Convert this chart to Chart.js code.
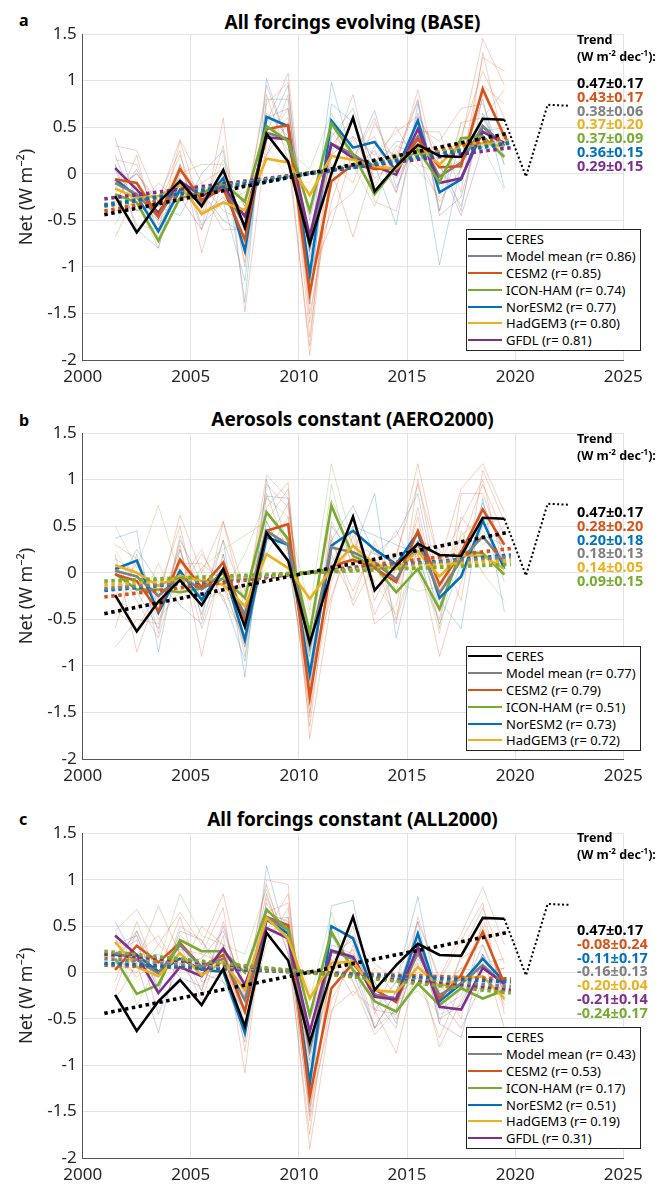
<!DOCTYPE html>
<html lang="en">
<head>
<meta charset="UTF-8">
<meta name="viewport" content="width=device-width, initial-scale=1.0">
<script src="https://cdn.jsdelivr.net/npm/chart.js"></script>
<title>Net radiation anomalies</title>
<style>
    body { margin: 0; width: 667px; height: 1184px; overflow: hidden; background: #fff; position: relative; font-family: "Noto Sans", sans-serif; color: #000; }
    canvas { position: absolute; left: 0; }
    .letter { position: absolute; left: 19px; font-size: 16px; font-weight: bold; line-height: 20px; }
    .title { position: absolute; left: 82px; width: 541px; text-align: center; font-size: 19px; font-weight: bold; line-height: 26px; }
    .trend { position: absolute; left: 577px; font-weight: bold; white-space: nowrap; }
    .trend .head { font-size: 12.5px; line-height: 17px; }
    .trend .vals { position: absolute; left: 0; font-size: 14.5px; line-height: 13.8px; }
    .trend sup { font-size: 8px; line-height: 0; }
    .legend { position: absolute; left: 466px; border: 1px solid #262626; background: #fff; padding: 1px 4px 1px 1px; }
    .legend .row { display: flex; align-items: center; height: 16.8px; font-size: 13px; white-space: nowrap; }
    .legend .swatch { width: 34px; height: 0; border-top: 2.6px solid; margin-right: 4px; }
</style>
</head>
<body>

<div class="letter" style="top:10px">a</div>
<div class="title" style="top:9px">All forcings evolving (BASE)</div>
<canvas id="panelA" width="667" height="395" style="top:0px"></canvas>
<div class="trend" id="trendA" style="top:31px"></div>
<div class="legend" id="legendA" style="top:229px"></div>

<div class="letter" style="top:410px">b</div>
<div class="title" style="top:406px">Aerosols constant (AERO2000)</div>
<canvas id="panelB" width="667" height="394" style="top:400px"></canvas>
<div class="trend" id="trendB" style="top:430px"></div>
<div class="legend" id="legendB" style="top:646px"></div>

<div class="letter" style="top:809px">c</div>
<div class="title" style="top:806px">All forcings constant (ALL2000)</div>
<canvas id="panelC" width="667" height="393" style="top:800px"></canvas>
<div class="trend" id="trendC" style="top:829px"></div>
<div class="legend" id="legendC" style="top:1027px"></div>

<script>
// ---- dados ----
const years = [2001.5, 2002.5, 2003.5, 2004.5, 2005.5, 2006.5, 2007.5, 2008.5, 2009.5, 2010.5,
               2011.5, 2012.5, 2013.5, 2014.5, 2015.5, 2016.5, 2017.5, 2018.5, 2019.5];

const ceres = [-0.24, -0.63, -0.31, -0.08, -0.35, 0.04, -0.58, 0.43, 0.13, -0.75,
               0.00, 0.60, -0.19, 0.08, 0.31, 0.19, 0.18, 0.59, 0.58];
const ceresExtYears = [2019.5, 2020.5, 2021.5, 2022.5];
const ceresExt = [0.58, -0.03, 0.74, 0.73];

const trendYears = [2001.0, 2019.8];
const ceresTrendYears = [2001.0, 2019.6];
const ceresTrend = [-0.44, 0.43];

// painel a (BASE)
const aMean  = [-0.10, -0.22, -0.46, -0.10, -0.31, -0.13, -0.56, 0.44, 0.37, -0.78, 0.32, 0.21, 0.05, 0.06, 0.40, -0.03, 0.12, 0.51, 0.30];
const aCesm2 = [-0.06, -0.10, -0.46, 0.05, -0.28, -0.16, -0.71, 0.48, 0.52, -1.28, -0.08, 0.10, 0.05, 0.06, 0.37, 0.07, 0.08, 0.91, 0.40];
const aIcon  = [-0.22, -0.31, -0.72, -0.26, -0.21, -0.10, -0.30, 0.51, 0.35, -0.40, 0.54, 0.21, -0.22, 0.07, 0.26, -0.09, 0.38, 0.40, 0.18];
const aNor   = [-0.06, -0.24, -0.62, -0.17, -0.31, -0.05, -0.83, 0.61, 0.51, -1.08, 0.57, 0.28, 0.34, 0.03, 0.57, -0.20, -0.06, 0.51, 0.30];
const aHad   = [-0.16, -0.26, -0.24, -0.12, -0.43, -0.31, -0.39, 0.16, 0.12, -0.23, 0.19, 0.15, 0.08, 0.05, 0.30, 0.10, 0.32, 0.33, 0.29];
const aGfdl  = [0.06, -0.17, -0.42, -0.08, -0.24, -0.13, -0.46, 0.39, 0.37, -0.67, 0.32, 0.17, 0.08, -0.01, 0.48, -0.10, -0.05, 0.45, 0.33];

const aCesm2Members = [
    [0.30, 0.25, -0.30, 0.37, -0.10, 0.05, -0.95, 0.75, 0.98, -1.50, -0.30, 0.40, 0.20, 0.45, 0.62, 0.20, 0.35, 1.45, 0.95],
    [-0.40, -0.30, -0.80, 0.10, -0.60, 0.60, -1.48, 0.35, 0.70, -1.75, 0.10, -0.10, 0.55, 0.10, 0.90, -0.10, 0.40, 1.10, 0.60],
    [0.15, 0.10, -0.55, -0.20, -0.10, -0.40, -0.50, 0.95, 0.30, -1.95, 0.20, 0.85, -0.15, 0.30, 0.20, -0.30, 0.05, 1.25, 1.10],
    [-0.68, -0.20, -0.25, 0.25, -0.85, -0.05, -0.80, 0.55, 1.08, -1.10, -0.55, 0.25, 0.40, -0.20, 0.50, 0.35, 0.70, 0.75, 0.10],
    [0.05, -0.55, -0.60, 0.35, -0.40, -0.30, -0.20, 0.20, 0.85, -1.60, 0.05, -0.68, 0.10, 0.50, 0.10, 0.00, 0.15, 0.95, 0.75],
    [-0.20, 0.00, -0.35, 0.20, -0.45, 0.30, -1.00, 0.65, 0.40, -1.40, 0.30, 0.60, -0.30, -0.40, 0.45, 0.45, -0.20, 1.30, 0.30],
    [0.10, -0.40, -0.10, -0.30, -0.20, -0.60, -0.60, 0.40, 0.60, -1.05, -0.40, -0.20, 0.30, 0.20, 0.80, -0.40, 0.55, 0.60, 0.90],
    [-0.35, 0.20, -0.70, 0.00, 0.10, 0.10, -0.35, 0.85, 0.15, -1.85, 0.45, 0.15, 0.60, -0.05, 0.30, 0.20, -0.40, 0.85, 0.45]
];
const aNorMembers = [
    [0.20, -0.40, -0.35, -0.45, 0.00, 0.25, -1.38, 1.02, 0.30, -0.80, 0.98, 0.15, 0.68, -0.15, 0.40, -0.98, 0.10, 0.80, -0.15],
    [-0.30, 0.05, -0.50, 0.10, -0.55, -0.30, -1.15, 0.80, 0.80, -1.40, 0.75, 0.55, 0.10, -0.55, 0.75, -0.40, 0.35, 0.45, 0.50],
    [0.10, -0.60, -0.80, 0.05, -0.20, -0.50, -0.65, 0.45, 0.95, -1.20, 0.40, 0.70, 0.05, 0.35, 0.30, 0.10, -0.35, 0.65, 0.10]
];
const aIconMembers = [
    [-0.55, -0.10, -0.60, -0.05, -0.35, 0.15, -0.30, 0.60, 0.25, 0.05, 0.65, 0.10, -0.35, 0.25, 0.05, -0.25, 0.55, 0.30, -0.18]
];
const aHadMembers = [
    [-0.35, -0.10, -0.40, 0.10, -0.30, -0.50, -0.25, 0.30, -0.05, -0.10, 0.30, 0.35, -0.10, 0.20, 0.15, 0.25, 0.10, 0.50, 0.15]
];
const aGfdlMembers = [
    [0.38, -0.30, -0.50, -0.25, -0.60, 0.00, -0.35, 0.60, 0.70, -0.90, 0.20, 0.40, -0.05, 0.15, 0.78, -0.45, -0.25, 0.60, 0.20],
    [-0.15, 0.00, -0.30, -0.05, -0.45, -0.25, -0.60, 0.20, 0.55, -0.50, 0.55, 0.05, 0.25, -0.20, 0.65, 0.10, -0.45, 0.30, 0.45]
];

const aTrendCesm2 = [-0.40, 0.40];
const aTrendMean  = [-0.35, 0.36];
const aTrendHad   = [-0.34, 0.35];
const aTrendIcon  = [-0.33, 0.34];
const aTrendNor   = [-0.34, 0.33];
const aTrendGfdl  = [-0.27, 0.28];

const aLegend = ['CERES', 'Model mean (r= 0.86)', 'CESM2 (r= 0.85)', 'ICON-HAM (r= 0.74)', 'NorESM2 (r= 0.77)', 'HadGEM3 (r= 0.80)', 'GFDL (r= 0.81)'];
const aTrendText = ['0.47±0.17', '0.43±0.17', '0.38±0.06', '0.37±0.20', '0.37±0.09', '0.36±0.15', '0.29±0.15'];

// painel b (AERO2000)
const bMean  = [0.02, -0.04, -0.25, -0.04, -0.18, 0.00, -0.45, 0.45, 0.30, -0.79, 0.27, 0.22, 0.11, -0.07, 0.32, -0.22, 0.14, 0.39, 0.11];
const bCesm2 = [-0.02, -0.09, -0.41, 0.14, -0.16, 0.11, -0.50, 0.45, 0.52, -1.34, 0.07, 0.14, 0.05, -0.10, 0.45, -0.13, 0.22, 0.68, 0.30];
const bIcon  = [-0.01, -0.18, -0.18, -0.21, -0.17, -0.06, -0.27, 0.65, 0.36, -0.65, 0.72, 0.18, 0.07, -0.21, 0.04, -0.39, 0.23, 0.21, -0.02];
const bNor   = [0.04, 0.13, -0.43, 0.02, -0.29, 0.04, -0.72, 0.38, 0.30, -1.09, 0.29, 0.45, 0.25, 0.09, 0.43, -0.27, -0.04, 0.56, 0.04];
const bHad   = [0.08, 0.00, -0.14, -0.03, -0.09, -0.13, -0.36, 0.20, 0.05, -0.28, 0.04, 0.29, 0.09, 0.04, 0.23, -0.04, 0.19, 0.18, 0.04];

const bCesm2Members = [
    [0.30, 0.15, -0.30, 0.62, 0.00, 0.55, -0.40, 1.05, 0.80, -1.55, 0.78, 0.30, 0.20, 0.15, 1.17, 0.10, 0.90, 1.17, 0.65],
    [-0.80, -0.50, -0.55, 0.30, -0.90, 0.20, -0.90, 0.70, 0.97, -1.78, -0.30, 0.50, -0.55, -0.35, 0.70, -0.40, 0.30, 0.95, 0.40],
    [0.20, -0.85, -0.20, -0.10, 0.25, -0.30, -0.65, 0.20, 0.60, -1.20, 0.35, -0.20, 0.30, -0.50, 0.20, -0.90, -0.10, 0.50, 0.60],
    [-0.60, 0.20, -0.65, 0.40, -0.30, 0.35, -0.30, 0.85, 0.20, -1.50, -0.10, 0.60, -0.30, 0.20, 0.95, 0.10, 0.55, 1.00, 0.00],
    [0.10, -0.30, -0.70, 0.10, 0.10, -0.10, -0.80, 0.30, 0.75, -1.00, 0.40, -0.35, 0.10, 0.45, 0.00, -0.50, 0.60, 0.30, 0.50],
    [-0.40, -0.60, -0.20, 0.50, -0.50, 0.55, -0.20, 0.40, 0.35, -1.65, 0.20, -0.30, 0.35, -0.20, 0.60, -0.60, 0.85, 0.85, 0.20],
    [0.15, 0.00, -0.50, -0.20, 0.20, -0.15, -0.75, 0.95, 0.70, -1.10, -0.25, 0.40, -0.45, 0.05, 0.35, 0.25, -0.30, 1.10, 0.55],
    [-0.25, 0.10, -0.35, 0.25, -0.60, 0.05, -0.55, 0.55, 0.90, -1.40, 0.55, 0.10, 0.15, -0.55, 1.00, -0.20, 0.40, 0.60, -0.10]
];
const bNorMembers = [
    [0.37, 0.45, -0.85, 0.25, -0.45, 0.35, -1.12, 1.00, 0.30, -0.90, 0.35, 0.72, 0.20, 0.40, 0.85, -0.30, -0.60, 0.80, -0.42],
    [-0.20, 0.25, -0.10, -0.35, -0.55, 0.20, -0.80, 0.82, 0.80, -1.25, 0.50, 0.20, 0.85, -0.70, 0.30, -0.40, 0.20, 0.40, 0.30],
    [0.00, -0.20, -0.60, 0.35, -0.10, -0.25, -0.95, 0.55, 0.10, -1.30, 0.10, 0.50, 0.40, 0.30, 0.20, -0.55, 0.10, 0.75, 0.20]
];
const bIconMembers = [
    [0.50, 0.05, 0.72, -0.05, -0.30, -0.20, 0.20, 0.80, 0.60, -0.40, 1.17, 0.30, -0.10, -0.45, 0.25, -0.65, 0.45, 0.00, -0.30],
    [-0.30, -0.40, 0.10, -0.35, 0.05, 0.25, 0.40, 0.55, 0.10, -0.90, 0.95, 0.00, 0.25, -0.10, -0.20, -0.15, 0.10, 0.45, 0.15]
];
const bHadMembers = [
    [0.25, -0.15, 0.00, -0.20, 0.05, -0.30, -0.20, 0.05, 0.25, -0.45, 0.15, 0.45, -0.10, 0.20, 0.10, 0.10, 0.35, 0.00, 0.20]
];

const bTrendCesm2 = [-0.26, 0.26];
const bTrendNor   = [-0.19, 0.19];
const bTrendMean  = [-0.17, 0.17];
const bTrendHad   = [-0.13, 0.13];
const bTrendIcon  = [-0.09, 0.09];

const bLegend = ['CERES', 'Model mean (r= 0.77)', 'CESM2 (r= 0.79)', 'ICON-HAM (r= 0.51)', 'NorESM2 (r= 0.73)', 'HadGEM3 (r= 0.72)'];
const bTrendText = ['0.47±0.17', '0.28±0.20', '0.20±0.18', '0.18±0.13', '0.14±0.05', '0.09±0.15'];

// painel c (ALL2000)
const cMean  = [0.21, 0.14, -0.01, 0.30, 0.06, 0.15, -0.30, 0.60, 0.46, -0.83, 0.23, 0.15, -0.24, -0.28, 0.21, -0.24, -0.12, 0.08, -0.13];
const cCesm2 = [0.03, 0.29, 0.11, 0.32, 0.06, 0.19, -0.42, 0.60, 0.51, -1.34, -0.17, 0.10, -0.18, -0.32, 0.23, -0.28, -0.03, 0.44, -0.12];
const cIcon  = [0.15, -0.23, -0.13, 0.35, 0.23, 0.23, 0.00, 0.68, 0.46, -0.46, 0.44, 0.03, -0.31, -0.42, -0.12, -0.35, -0.17, -0.28, -0.19];
const cNor   = [0.19, 0.19, 0.01, 0.15, 0.03, 0.01, -0.65, 0.57, 0.42, -1.19, 0.50, 0.37, -0.24, -0.28, 0.42, -0.31, -0.12, 0.15, -0.10];
const cHad   = [0.33, 0.06, -0.04, 0.21, -0.03, 0.12, -0.19, 0.59, 0.37, -0.28, 0.10, 0.12, -0.19, -0.21, 0.06, -0.15, -0.07, -0.04, -0.28];
const cGfdl  = [0.40, 0.19, -0.22, 0.06, -0.04, 0.26, -0.13, 0.48, 0.37, -0.64, 0.24, 0.17, -0.26, -0.29, 0.28, -0.37, -0.40, 0.05, -0.12];

const cCesm2Members = [
    [0.45, 0.68, 0.30, 0.65, 0.30, 0.85, -0.20, 1.00, 0.95, -1.55, 0.10, 0.40, 0.10, -0.10, 0.55, -0.05, 0.42, 0.92, 0.30],
    [-0.30, 0.10, 0.72, 0.20, -0.30, 0.40, -1.08, 0.80, 0.30, -1.90, -0.40, -0.20, -0.40, -0.87, 0.10, -0.80, -0.30, 0.20, -0.60],
    [0.20, 0.40, -0.20, 0.50, 0.35, -0.10, -0.60, 0.30, 0.70, -1.10, 0.05, 0.25, -0.60, -0.20, 0.40, -0.55, 0.20, 0.70, 0.10],
    [0.10, 0.00, 0.30, 0.10, -0.20, 0.55, -0.30, 0.75, 0.40, -1.60, -0.30, 0.15, -0.10, -0.50, 0.00, -0.10, -0.50, 0.60, -0.30],
    [-0.10, 0.55, -0.05, 0.40, 0.20, 0.10, -0.45, 0.45, 0.85, -1.20, 0.20, -0.10, -0.67, -0.40, 0.35, -0.35, 0.15, 0.30, -0.20],
    [0.35, 0.20, 0.40, 0.00, 0.50, 0.30, -0.70, 0.55, 0.60, -1.45, -0.45, 0.30, -0.30, -0.60, 0.60, -0.10, 0.35, 0.75, -0.45],
    [-0.20, 0.45, 0.00, 0.60, -0.10, 0.00, -0.15, 0.95, 0.20, -1.75, 0.15, -0.25, 0.05, -0.25, -0.05, -0.70, -0.15, 0.10, 0.15],
    [0.25, -0.05, 0.15, 0.25, 0.20, 0.70, -0.85, 0.65, 0.75, -1.00, -0.05, 0.50, -0.45, 0.10, 0.25, -0.30, 0.00, 0.50, -0.25]
];
const cNorMembers = [
    [0.30, 0.40, -0.20, 0.45, 0.35, 0.00, -0.75, 1.15, 0.30, -1.50, 0.72, 0.78, -0.40, -0.10, 0.82, -0.40, -0.25, 0.30, -0.30],
    [0.05, 0.15, 0.20, -0.05, -0.15, 0.30, -0.55, 0.40, 0.60, -0.95, 0.30, 0.20, -0.10, -0.55, 0.30, -0.20, 0.05, 0.00, 0.05],
    [0.10, 0.45, -0.15, 0.30, 0.00, -0.10, -0.40, 0.70, 0.35, -1.30, 0.40, 0.10, -0.60, -0.40, 0.55, -0.50, -0.35, 0.20, -0.20]
];
const cIconMembers = [
    [0.40, -0.35, 0.10, 0.85, 0.40, 0.30, 0.20, 0.90, 0.30, -0.30, 0.65, -0.10, -0.55, -0.30, -0.20, -0.45, -0.35, -0.20, -0.10]
];
const cHadMembers = [
    [0.45, -0.10, 0.10, 0.15, 0.05, 0.00, -0.30, 0.45, 0.50, -0.20, 0.00, 0.25, -0.35, -0.10, 0.10, -0.25, 0.05, 0.10, -0.40]
];
const cGfdlMembers = [
    [0.55, 0.10, -0.65, 0.30, -0.20, 0.50, -0.25, 0.85, 0.20, -0.80, 0.40, 0.00, -0.60, -0.20, 0.45, -0.55, -0.70, 0.20, -0.35],
    [0.20, 0.35, -0.45, 0.10, 0.15, 0.45, -0.20, 0.65, 0.55, -0.50, 0.20, 0.35, -0.40, -0.45, 0.15, -0.30, -0.60, -0.10, 0.05]
];

const cTrendCesm2 = [0.08, -0.07];
const cTrendNor   = [0.10, -0.10];
const cTrendMean  = [0.15, -0.15];
const cTrendHad   = [0.19, -0.19];
const cTrendGfdl  = [0.20, -0.19];
const cTrendIcon  = [0.23, -0.22];

const cLegend = ['CERES', 'Model mean (r= 0.43)', 'CESM2 (r= 0.53)', 'ICON-HAM (r= 0.17)', 'NorESM2 (r= 0.51)', 'HadGEM3 (r= 0.19)', 'GFDL (r= 0.31)'];
const cTrendText = ['0.47±0.17', '-0.08±0.24', '-0.11±0.17', '-0.16±0.13', '-0.20±0.04', '-0.21±0.14', '-0.24±0.17'];

// cores (padrao matlab)
const PRETO = '#000000';
const CINZA = '#808080';
const LARANJA = '#D95319';
const VERDE = '#77AC30';
const AZUL = '#0072BD';
const AMARELO = '#EDB120';
const ROXO = '#7E2F8E';

function fraco(hex) {
    const r = parseInt(hex.slice(1, 3), 16), g = parseInt(hex.slice(3, 5), 16), b = parseInt(hex.slice(5, 7), 16);
    return `rgba(${r}, ${g}, ${b}, 0.3)`;
}

function pontos(xs, ys) {
    return xs.map((x, i) => ({ x: x, y: ys[i] }));
}

function linhaFina(valores, cor) {
    return { data: pontos(years, valores), borderColor: fraco(cor), borderWidth: 0.9, order: 5 };
}

function linhaGrossa(valores, cor) {
    return { data: pontos(years, valores), borderColor: cor, borderWidth: 2.6, order: 3 };
}

function linhaTendencia(valores, cor) {
    return { data: pontos(trendYears, valores), borderColor: cor, borderWidth: 3.6, borderDash: [3.5, 3.5], borderCapStyle: 'butt', order: 2 };
}

function datasetsCeres() {
    return [
        { data: pontos(years, ceres), borderColor: PRETO, borderWidth: 2.6, order: 0 },
        { data: pontos(ceresTrendYears, ceresTrend), borderColor: PRETO, borderWidth: 3.6, borderDash: [3.5, 3.5], order: 1 },
        { data: pontos(ceresExtYears, ceresExt), borderColor: PRETO, borderWidth: 2, borderDash: [2, 2.4], order: 1 }
    ];
}

function criarGrafico(idCanvas, paddingTop, datasets) {
    const config = {
        type: 'line',
        data: { datasets: datasets },
        options: {
            responsive: false,
            animation: false,
            layout: { padding: { top: paddingTop, right: 43.7, left: 0, bottom: 0 } },
            elements: { point: { radius: 0 }, line: { tension: 0, fill: false } },
            plugins: { legend: { display: false }, tooltip: { enabled: false } },
            scales: {
                x: {
                    type: 'linear', min: 2000, max: 2025,
                    ticks: { stepSize: 5, padding: 7, color: '#262626', font: { family: 'Noto Sans', size: 17 }, callback: v => String(v) },
                    grid: { color: '#e3e3e3', drawTicks: false },
                    border: { color: '#555555', width: 1 },
                    afterFit: s => { s.height = 35; }
                },
                y: {
                    min: -2, max: 1.5,
                    ticks: { stepSize: 0.5, padding: 6, color: '#262626', font: { family: 'Noto Sans', size: 17 }, callback: v => String(v) },
                    grid: { color: '#e3e3e3', drawTicks: false },
                    border: { color: '#555555', width: 1 },
                    title: { display: true, text: 'Net (W m⁻²)', color: '#262626', font: { family: 'Noto Sans', size: 18 }, padding: { top: 16, bottom: 0 } },
                    afterFit: s => { s.width = 82.7; }
                }
            }
        }
    };
    return new Chart(document.getElementById(idCanvas), config);
}

function montarLegenda(idDiv, labels, cores) {
    let html = '';
    labels.forEach((txt, i) => {
        html += `<div class="row"><span class="swatch" style="border-color:${cores[i]}"></span>${txt}</div>`;
    });
    document.getElementById(idDiv).innerHTML = html;
}

function montarTendencia(idDiv, textos, cores, topoValores) {
    let html = '<div class="head">Trend</div><div class="head">(W m<sup>-2</sup> dec<sup>-1</sup>):</div>';
    html += `<div class="vals" style="top:${topoValores}px">`;
    textos.forEach((t, i) => {
        html += `<div style="color:${cores[i]}">${t}</div>`;
    });
    html += '</div>';
    document.getElementById(idDiv).innerHTML = html;
}

// painel a
let dsA = [];
aCesm2Members.forEach(m => dsA.push(linhaFina(m, LARANJA)));
aNorMembers.forEach(m => dsA.push(linhaFina(m, AZUL)));
aIconMembers.forEach(m => dsA.push(linhaFina(m, VERDE)));
aHadMembers.forEach(m => dsA.push(linhaFina(m, AMARELO)));
aGfdlMembers.forEach(m => dsA.push(linhaFina(m, ROXO)));
dsA.push(linhaGrossa(aHad, AMARELO), linhaGrossa(aIcon, VERDE), linhaGrossa(aCesm2, LARANJA),
         linhaGrossa(aGfdl, ROXO), linhaGrossa(aMean, CINZA), linhaGrossa(aNor, AZUL));
dsA.push(linhaTendencia(aTrendNor, AZUL), linhaTendencia(aTrendIcon, VERDE), linhaTendencia(aTrendHad, AMARELO),
         linhaTendencia(aTrendMean, CINZA), linhaTendencia(aTrendCesm2, LARANJA), linhaTendencia(aTrendGfdl, ROXO));
dsA = dsA.concat(datasetsCeres());
criarGrafico('panelA', 34, dsA);
montarLegenda('legendA', aLegend, [PRETO, CINZA, LARANJA, VERDE, AZUL, AMARELO, ROXO]);
montarTendencia('trendA', aTrendText, [PRETO, LARANJA, CINZA, AMARELO, VERDE, AZUL, ROXO], 45);

// painel b
let dsB = [];
bCesm2Members.forEach(m => dsB.push(linhaFina(m, LARANJA)));
bNorMembers.forEach(m => dsB.push(linhaFina(m, AZUL)));
bIconMembers.forEach(m => dsB.push(linhaFina(m, VERDE)));
bHadMembers.forEach(m => dsB.push(linhaFina(m, AMARELO)));
dsB.push(linhaGrossa(bHad, AMARELO), linhaGrossa(bMean, CINZA), linhaGrossa(bCesm2, LARANJA),
         linhaGrossa(bNor, AZUL), linhaGrossa(bIcon, VERDE));
dsB.push(linhaTendencia(bTrendIcon, VERDE), linhaTendencia(bTrendHad, AMARELO), linhaTendencia(bTrendMean, CINZA),
         linhaTendencia(bTrendNor, AZUL), linhaTendencia(bTrendCesm2, LARANJA));
dsB = dsB.concat(datasetsCeres());
criarGrafico('panelB', 33, dsB);
montarLegenda('legendB', bLegend, [PRETO, CINZA, LARANJA, VERDE, AZUL, AMARELO]);
montarTendencia('trendB', bTrendText, [PRETO, LARANJA, AZUL, CINZA, AMARELO, VERDE], 75);

// painel c
let dsC = [];
cCesm2Members.forEach(m => dsC.push(linhaFina(m, LARANJA)));
cNorMembers.forEach(m => dsC.push(linhaFina(m, AZUL)));
cIconMembers.forEach(m => dsC.push(linhaFina(m, VERDE)));
cHadMembers.forEach(m => dsC.push(linhaFina(m, AMARELO)));
cGfdlMembers.forEach(m => dsC.push(linhaFina(m, ROXO)));
dsC.push(linhaGrossa(cHad, AMARELO), linhaGrossa(cGfdl, ROXO), linhaGrossa(cIcon, VERDE),
         linhaGrossa(cMean, CINZA), linhaGrossa(cCesm2, LARANJA), linhaGrossa(cNor, AZUL));
dsC.push(linhaTendencia(cTrendIcon, VERDE), linhaTendencia(cTrendGfdl, ROXO), linhaTendencia(cTrendHad, AMARELO),
         linhaTendencia(cTrendMean, CINZA), linhaTendencia(cTrendNor, AZUL), linhaTendencia(cTrendCesm2, LARANJA));
dsC = dsC.concat(datasetsCeres());
criarGrafico('panelC', 33.5, dsC);
montarLegenda('legendC', cLegend, [PRETO, CINZA, LARANJA, VERDE, AZUL, AMARELO, ROXO]);
montarTendencia('trendC', cTrendText, [PRETO, LARANJA, AZUL, CINZA, AMARELO, ROXO, VERDE], 94);
</script>
</body>
</html>
